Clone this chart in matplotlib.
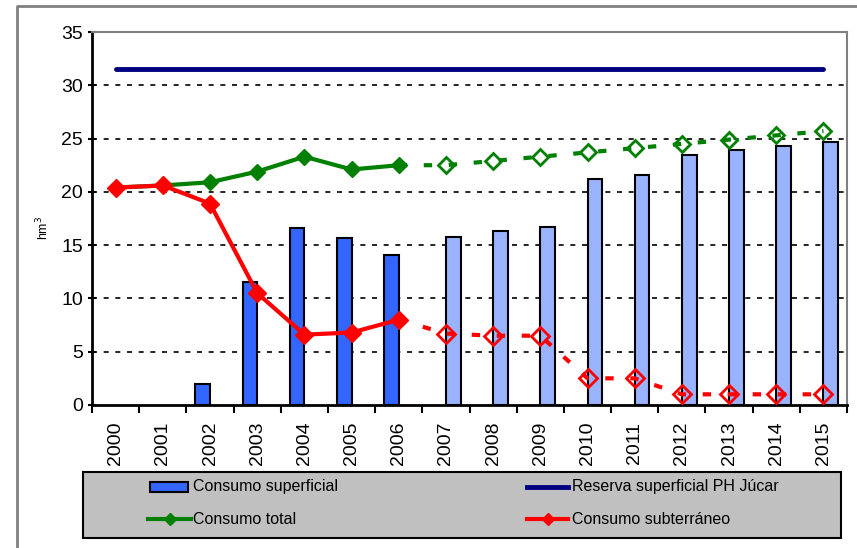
import numpy as np
import matplotlib.pyplot as plt
from matplotlib.patches import Rectangle
from matplotlib.lines import Line2D

plt.rcParams['font.family'] = ['Liberation Sans', 'DejaVu Sans']

years = [str(y) for y in range(2000, 2016)]

# consumo superficial: real (2002-2006) and forecast (2007-2015)
sup_real = [0, 0, 2.0, 11.5, 16.6, 15.7, 14.1, 0, 0, 0, 0, 0, 0, 0, 0, 0]
sup_prev = [0, 0, 0, 0, 0, 0, 0, 15.8, 16.3, 16.7, 21.2, 21.6, 23.5, 23.9, 24.3, 24.7]

total = [20.4, 20.6, 20.9, 21.9, 23.3, 22.1, 22.5, 22.5, 22.9, 23.3,
         23.7, 24.1, 24.5, 24.9, 25.3, 25.7]
subterraneo = [20.4, 20.6, 18.9, 10.5, 6.6, 6.8, 8.0, 6.7, 6.5, 6.5,
               2.5, 2.5, 1.0, 1.0, 1.0, 1.0]
reserva = 31.5

n_real = 7  # 2000-2006 measured, rest forecast

dark_blue = '#3366FF'
light_blue = '#99B3FF'
green = '#008000'
red = '#FF0000'
navy = '#000080'

fig = plt.figure(figsize=(8.57, 5.48), dpi=100)
ax = fig.add_axes([0.1074, 0.261, 0.881, 0.6806])

x = np.arange(len(years))
bw = 0.31
sr = np.array(sup_real)
sp = np.array(sup_prev)
ax.bar(x[sr > 0] - bw / 2, sr[sr > 0], width=bw, color=dark_blue,
       edgecolor='black', linewidth=1.5, zorder=2)
ax.bar(x[sp > 0] + bw / 2, sp[sp > 0], width=bw, color=light_blue,
       edgecolor='black', linewidth=1.5, zorder=2)

ax.plot(x, [reserva] * len(x), color=navy, lw=3.5, solid_capstyle='round', zorder=3)

# total
ax.plot(x[:n_real], total[:n_real], color=green, lw=3, marker='D', ms=8,
        zorder=4)
ax.plot(x[n_real - 1:], total[n_real - 1:], color=green, lw=3, ls=(0, (2, 4)),
        zorder=4)
ax.plot(x[n_real:], total[n_real:], ls='none', marker='D', ms=8.5, mfc='none',
        mec=green, mew=2, zorder=5)

# subterraneo
ax.plot(x[:n_real], subterraneo[:n_real], color=red, lw=3, marker='D', ms=9,
        zorder=4)
ax.plot(x[n_real - 1:], subterraneo[n_real - 1:], color=red, lw=3, ls=(0, (2, 4)),
        zorder=4)
ax.plot(x[n_real:], subterraneo[n_real:], ls='none', marker='D', ms=9, mfc='none',
        mec=red, mew=2, zorder=5)

ax.set_xlim(-0.5, len(years) - 0.5)
ax.set_ylim(0, 35)
ax.set_yticks(range(0, 36, 5))
ax.set_xticks(x)
ax.set_xticklabels(years, rotation=90, fontsize=14)
ax.set_xticks(np.arange(-0.5, len(years), 1), minor=True)
ax.tick_params(axis='x', which='major', length=0, pad=12)
ax.tick_params(axis='x', which='minor', length=6, width=1.5, direction='out')
ax.tick_params(axis='y', labelsize=14, length=6, width=1.5, direction='inout')
for yv in range(5, 35, 5):
    ax.axhline(yv, color='black', lw=1.2, ls=(0, (3, 4)), zorder=1)

ax.spines['left'].set_linewidth(2)
ax.spines['bottom'].set_linewidth(2)
ax.spines['top'].set_color('#808080')
ax.spines['right'].set_color('#808080')
ax.spines['top'].set_linewidth(1.5)
ax.spines['right'].set_linewidth(1.5)

fig.text(0.05, 0.585, 'hm$^3$', rotation=90, fontsize=9, ha='center', va='center')

# outer chart border
fig.add_artist(Line2D([0.02, 0.02, 1.0], [0.0, 0.989, 0.989], color='#808080',
                      lw=2, transform=fig.transFigure))

# legend
W, H = 857, 548


def fx(px):
    return px / W


def fy(py):
    return 1 - py / H


fig.add_artist(Rectangle((fx(83), fy(538)), fx(841) - fx(83), fy(472) - fy(538),
                         transform=fig.transFigure, facecolor='#C0C0C0',
                         edgecolor='black', lw=1.5))
fig.add_artist(Rectangle((fx(150), fy(492)), fx(188) - fx(150), fy(482) - fy(492),
                         transform=fig.transFigure, facecolor=dark_blue,
                         edgecolor='black', lw=1.5))
fig.add_artist(Line2D([fx(148), fx(191)], [fy(519), fy(519)], color=green, lw=3,
                      transform=fig.transFigure))
fig.add_artist(Line2D([fx(169.5)], [fy(519)], color=green, marker='D', ms=6,
                      transform=fig.transFigure))
fig.add_artist(Line2D([fx(527), fx(568)], [fy(487), fy(487)], color=navy, lw=3.5,
                      transform=fig.transFigure))
fig.add_artist(Line2D([fx(527), fx(568)], [fy(519), fy(519)], color=red, lw=3,
                      transform=fig.transFigure))
fig.add_artist(Line2D([fx(547.5)], [fy(519)], color=red, marker='D', ms=6,
                      transform=fig.transFigure))
fs = 11.5
fig.text(fx(193), fy(487), 'Consumo superficial', fontsize=fs, va='center')
fig.text(fx(193), fy(519), 'Consumo total', fontsize=fs, va='center')
fig.text(fx(572), fy(487), 'Reserva superficial PH Júcar', fontsize=fs, va='center')
fig.text(fx(572), fy(519), 'Consumo subterráneo', fontsize=fs, va='center')

fig.savefig('out.png', dpi=100)
